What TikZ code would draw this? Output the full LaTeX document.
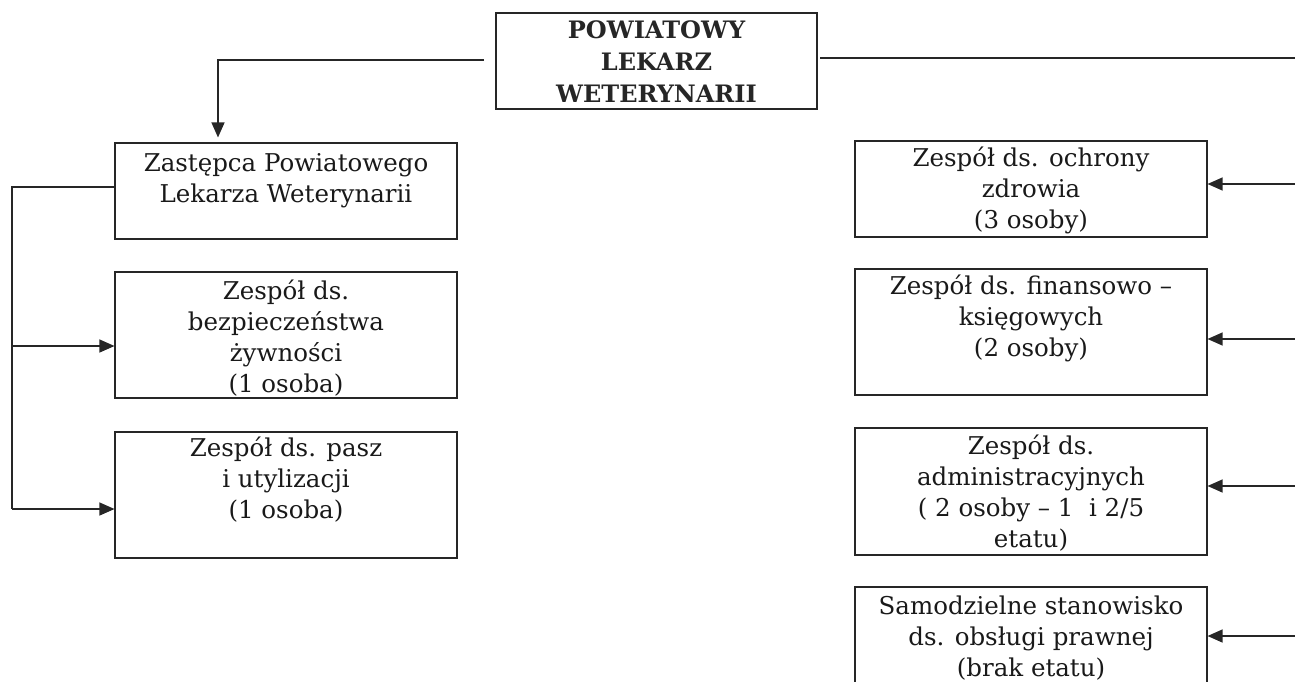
\documentclass[tikz,border=0pt]{standalone}
\usepackage{fontspec}
\setmainfont{DejaVu Serif}
\usetikzlibrary{arrows.meta,calc}
\begin{document}
\begin{tikzpicture}[x=1pt,y=-1pt,
  box/.style={draw=black!85, line width=1.1pt, rectangle, inner sep=0pt},
  txt/.style={anchor=base, align=center, inner sep=0pt, font=\fontsize{24.5}{31}\selectfont, text=black!90},
  ttl/.style={anchor=base, align=center, inner sep=0pt, font=\fontsize{24}{32}\selectfont\bfseries, text=black!85},
  line/.style={draw=black!85, line width=1.2pt},
  arr/.style={line, -{Triangle[length=15pt,width=13pt]}}
]
\useasboundingbox (0,0) rectangle (1295,681);
% boxes (corner to corner)
\node[box, minimum width=321pt, minimum height=96pt] (top) at (656.5,61) {};
\node[box, minimum width=342pt, minimum height=96pt] (z) at (286,191) {};
\node[box, minimum width=342pt, minimum height=126pt] (b2) at (286,335) {};
\node[box, minimum width=342pt, minimum height=126pt] (b3) at (286,495) {};
\node[box, minimum width=352pt, minimum height=96pt] (r1) at (1031,189) {};
\node[box, minimum width=352pt, minimum height=126pt] (r2) at (1031,332) {};
\node[box, minimum width=352pt, minimum height=127pt] (r3) at (1031,491.5) {};
\node[box, minimum width=352pt, minimum height=96pt] (r4) at (1031,635) {};
% texts (anchored at last baseline)
\node[ttl] (ttop) at ($(top.north)+(0,90)$) {POWIATOWY\\LEKARZ\\WETERYNARII};
\node[txt] (tz) at ($(z.north)+(0,60)$) {Zastępca Powiatowego\\Lekarza Weterynarii};
\node[txt] (tb2) at ($(b2.north)+(0,121)$) {Zespół ds.\\bezpieczeństwa\\żywności\\(1 osoba)};
\node[txt] (tb3) at ($(b3.north)+(0,87)$) {Zespół ds. pasz\\i utylizacji\\(1 osoba)};
\node[txt] (tr1) at ($(r1.north)+(0,88)$) {Zespół ds. ochrony\\zdrowia\\(3 osoby)};
\node[txt] (tr2) at ($(r2.north)+(0,88)$) {Zespół ds. finansowo –\\księgowych\\(2 osoby)};
\node[txt] (tr3) at ($(r3.north)+(0,120)$) {Zespół ds.\\administracyjnych\\( 2 osoby – 1~ i 2/5\\etatu)};
\node[txt] (tr4) at ($(r4.north)+(0,90)$) {Samodzielne stanowisko\\ds. obsługi prawnej\\(brak etatu)};
% connector coordinates
\coordinate (tl) at (484,60);
\coordinate (ax) at (218,0);
\coordinate (tr) at (820,58);
\coordinate (re) at (1295,58);
\coordinate (lx) at (12,0);
\coordinate (a2) at (0,346);
\coordinate (a3) at (0,509);
\coordinate (q1) at (1295,184);
\coordinate (q2) at (1295,339);
\coordinate (q3) at (1295,486);
\coordinate (q4) at (1295,636);
% connectors
\draw[arr, shorten >=5pt] (tl) -| (ax |- z.north);
\draw[line] (tr) -- (re);
\draw[line] ($(z.west)+(0,-4)$) -| (lx |- a3);
\draw[arr] (lx |- a2) -- (a2 -| b2.west);
\draw[arr] (lx |- a3) -- (a3 -| b3.west);
\draw[arr] (q1) -- (q1 -| r1.east);
\draw[arr] (q2) -- (q2 -| r2.east);
\draw[arr] (q3) -- (q3 -| r3.east);
\draw[arr] (q4) -- (q4 -| r4.east);
\end{tikzpicture}
\end{document}
